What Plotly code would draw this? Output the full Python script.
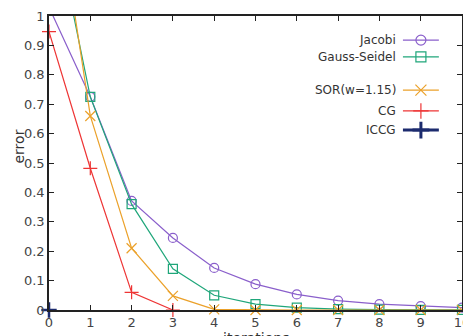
import plotly.graph_objects as go

iterations = list(range(11))
jacobi = [1.03, 0.725, 0.371, 0.245, 0.143, 0.088, 0.053, 0.032, 0.020, 0.013, 0.008]
gauss_seidel = [1.41, 0.725, 0.360, 0.140, 0.050, 0.020, 0.008, 0.003, 0.001, 0.0005, 0.0002]
sor = [1.58, 0.660, 0.210, 0.048, 0.002, 0.0, 0.0, 0.0, 0.0, 0.0, 0.0]
cg = [0.947, 0.482, 0.060, 0.0]
iccg = [0.0]

x_ticks = list(range(11))
y_ticks = [round(0.1 * i, 1) for i in range(11)]
y_tick_labels = ["0", "0.1", "0.2", "0.3", "0.4", "0.5", "0.6", "0.7", "0.8", "0.9", "1"]

series = [
    ("Jacobi", jacobi, "#8a5fcb", "circle-open", 9, 1.2),
    ("Gauss-Seidel", gauss_seidel, "#1fa67a", "square-open", 9, 1.2),
    ("SOR(w=1.15)", sor, "#eba12a", "x-thin-open", 10, 1.2),
    ("CG", cg, "#ee3535", "cross-thin-open", 10, 1.2),
    ("ICCG", iccg, "#1c2b6e", "cross-thin-open", 11, 2.5),
]

FONT = "DejaVu Sans"
fig = go.Figure()

for name, ys, color, sym, size, lw in series:
    xs = iterations[:len(ys)]
    fig.add_trace(go.Scatter(x=xs, y=ys, mode="lines", line=dict(color=color, width=1.2 if lw < 2 else 2.5),
                             showlegend=False, hoverinfo="skip"))
    mx = [x for x, y in zip(xs, ys) if y <= 1]
    my = [y for y in ys if y <= 1]
    fig.add_trace(go.Scatter(x=mx, y=my, mode="markers", cliponaxis=False,
                             marker=dict(symbol=sym, size=size, color=color, line=dict(color=color, width=lw)),
                             showlegend=False, name=name))

# manual legend (text on left, sample on right, gnuplot style)
leg_y = [0.918, 0.861, 0.748, 0.677, 0.612]
for (name, ys, color, sym, size, lw), yy in zip(series, leg_y):
    fig.add_trace(go.Scatter(x=[0.857, 0.944], y=[yy, yy], xaxis="x2", yaxis="y2", mode="lines",
                             line=dict(color=color, width=1.2 if lw < 2 else 3), showlegend=False, hoverinfo="skip"))
    fig.add_trace(go.Scatter(x=[0.9005], y=[yy], xaxis="x2", yaxis="y2", mode="markers", cliponaxis=False,
                             marker=dict(symbol=sym, size=size + 1, color=color, line=dict(color=color, width=lw if lw < 2 else 3)),
                             showlegend=False, hoverinfo="skip"))
    fig.add_annotation(x=0.845, y=yy, xref="x2", yref="y2", text=name, showarrow=False,
                       xanchor="right", yanchor="middle", font=dict(family=FONT, size=12, color="#333333"))

# axis titles placed like the reference
fig.add_annotation(x=-0.072, y=0.557, xref="paper", yref="paper", text="error", textangle=-90,
                   showarrow=False, xanchor="center", yanchor="middle",
                   font=dict(family=FONT, size=14, color="#333333"))
fig.add_annotation(x=0.5, y=-0.06, xref="paper", yref="paper", text="iterations",
                   showarrow=False, xanchor="center", yanchor="top",
                   font=dict(family=FONT, size=14, color="#333333"))

axis_common = dict(showline=True, linecolor="#222222", linewidth=1.5, mirror="ticks", ticks="inside",
                   ticklen=5, tickcolor="#222222", showgrid=False, zeroline=False, automargin=False,
                   tickfont=dict(family=FONT, size=13, color="#444444"))

fig.update_layout(
    width=463, height=336,
    margin=dict(l=49, r=1, t=16, b=26),
    paper_bgcolor="white", plot_bgcolor="white",
    xaxis=dict(range=[0, 10], tickvals=x_ticks, ticktext=[str(v) for v in x_ticks],
               ticklabelstandoff=0, ticklabeloverflow="allow", **axis_common),
    yaxis=dict(range=[0, 1], tickvals=y_ticks, ticktext=y_tick_labels, **axis_common),
    xaxis2=dict(overlaying="x", range=[0, 1], visible=False),
    yaxis2=dict(overlaying="y", range=[0, 1], visible=False),
)

fig.write_html("out.html")
